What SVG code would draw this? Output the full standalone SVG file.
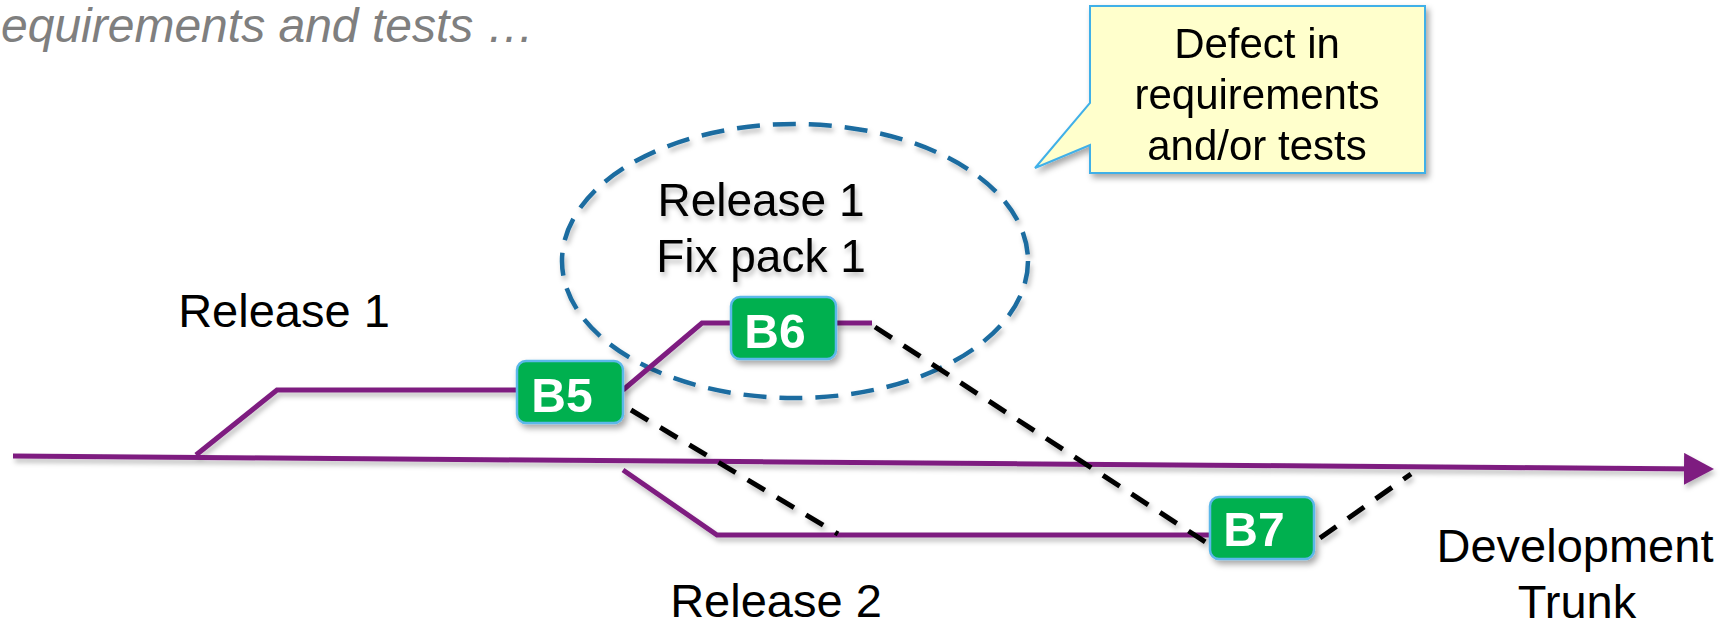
<svg xmlns="http://www.w3.org/2000/svg" width="1736" height="624" viewBox="0 0 1736 624">
  <defs>
    <style>
      .label { font-family: "Liberation Sans", Arial, sans-serif; font-size: 47px; fill: #000; text-anchor: middle; }
      .inner { font-size: 46px; }
      .note { font-family: "Liberation Sans", Arial, sans-serif; font-size: 42px; fill: #000; text-anchor: middle; }
      .heading { font-family: "Liberation Sans", Arial, sans-serif; font-size: 48px; font-style: italic; fill: #7F7F7F; }
      .build rect { fill: #00B050; stroke: #5CB8EA; stroke-width: 2.5; }
      .build text { font-family: "Liberation Sans", Arial, sans-serif; font-size: 48px; font-weight: bold; fill: #fff; text-anchor: middle; }
      .branch { fill: none; stroke: #7E1E80; stroke-width: 5; }
      .merge { fill: none; stroke: #000; stroke-width: 5; stroke-dasharray: 20 14; }
    </style>
    <filter id="shadow" x="-20%" y="-20%" width="140%" height="160%">
      <feDropShadow dx="3" dy="4" stdDeviation="3" flood-color="#000" flood-opacity="0.35"/>
    </filter>
    <filter id="lineShadow" x="-5%" y="-20%" width="110%" height="160%">
      <feDropShadow dx="2" dy="4" stdDeviation="2.5" flood-color="#000" flood-opacity="0.25"/>
    </filter>
    <marker id="arrow" markerUnits="userSpaceOnUse" markerWidth="30" markerHeight="32" viewBox="0 0 30 32" refX="16" refY="16" orient="auto">
      <path d="M0,0 L30,16 L0,32 Z" fill="#7E1E80"/>
    </marker>
  </defs>

  <rect width="1736" height="624" fill="#fff"/>

  <text class="heading" x="1" y="42">equirements and tests …</text>

  <!-- fix pack highlight -->
  <g id="fixpack" filter="url(#lineShadow)">
    <ellipse cx="795" cy="261" rx="233" ry="137" fill="none" stroke="#1A6CA0" stroke-width="4.5" stroke-dasharray="23 13"/>
    <text class="label inner" x="761" y="216">Release 1</text>
    <text class="label inner" x="761" y="272">Fix pack 1</text>
  </g>

  <!-- callout -->
  <g id="callout" filter="url(#shadow)">
    <path d="M1090,6 H1425 V173 H1090 V145 L1035,168 L1090,103 Z" fill="#FFFFCC" stroke="#41B0E8" stroke-width="2"/>
    <text class="note" x="1257" y="58">Defect in</text>
    <text class="note" x="1257" y="109">requirements</text>
    <text class="note" x="1257" y="160">and/or tests</text>
  </g>

  <!-- branches, trunk and merges -->
  <g id="connectors" filter="url(#lineShadow)">
    <line class="branch" x1="13" y1="456" x2="1700" y2="469" marker-end="url(#arrow)"/>
    <polyline class="branch" points="196,455 277,390 517,390"/>
    <polyline class="branch" points="623,390 702,323 731,323"/>
    <line class="branch" x1="836" y1="323" x2="872" y2="323"/>
    <polyline class="branch" points="623,470 717,535 1210,535"/>
    <line class="merge" x1="631" y1="410" x2="838" y2="534"/>
    <line class="merge" x1="875" y1="327" x2="1210" y2="545"/>
    <line class="merge" x1="1320" y1="538" x2="1411" y2="474"/>
  </g>

  <!-- builds -->
  <g id="b5" class="build" filter="url(#shadow)">
    <rect x="517" y="361" width="106" height="62" rx="9"/>
    <text x="562" y="412">B5</text>
  </g>
  <g id="b6" class="build" filter="url(#shadow)">
    <rect x="731" y="297" width="105" height="62" rx="9"/>
    <text x="775" y="348">B6</text>
  </g>
  <g id="b7" class="build" filter="url(#shadow)">
    <rect x="1210" y="497" width="104" height="62" rx="9"/>
    <text x="1254" y="546">B7</text>
  </g>

  <!-- branch labels -->
  <g id="release1"><text class="label" x="284" y="327">Release 1</text></g>
  <g id="release2"><text class="label" x="776" y="617">Release 2</text></g>
  <g id="trunk">
    <text class="label" x="1575" y="562">Development</text>
    <text class="label" x="1577" y="618">Trunk</text>
  </g>
</svg>
